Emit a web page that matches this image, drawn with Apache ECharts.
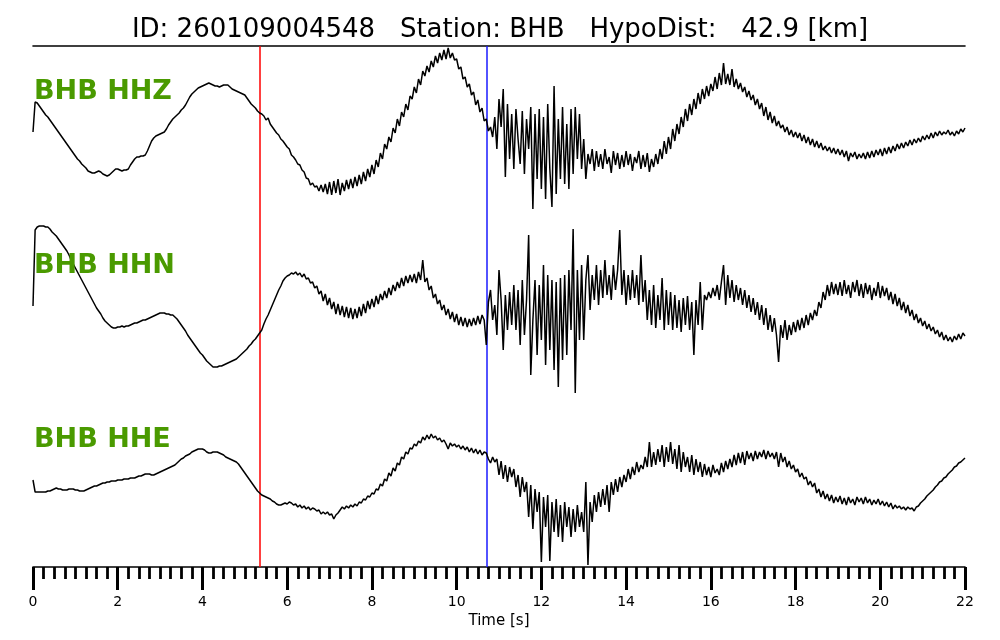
<!DOCTYPE html>
<html>
<head>
<meta charset="utf-8">
<script src="https://cdn.jsdelivr.net/npm/echarts@6/dist/echarts.min.js"></script>
<style>
html,body{margin:0;padding:0;background:#fff;}
#chart{width:1000px;height:640px;}
</style>
</head>
<body>
<div id="chart"></div>
<script>
// ---- data ----
const TITLE = "ID: 260109004548   Station: BHB   HypoDist:   42.9 [km]";
const CHANNELS = ["BHB HHZ", "BHB HHN", "BHB HHE"];
const DT = 0.05;            // sample spacing [s]
const X_TICKS = [0, 2, 4, 6, 8, 10, 12, 14, 16, 18, 20, 22];
const P_PICK = 5.36;        // red pick [s]
const S_PICK = 10.72;       // blue pick [s]

// amplitudes (arbitrary counts, positive = up), one row per second
const hhz = [
 -3,27,26,23,20,17,14,12,9,6,3,0,-3,-6,-9,-12,-15,-18,-21,-24,
 -27,-30,-32,-35,-37,-39,-42,-43,-44,-44,-43,-42,-43,-45,-46,-47,-46,-44,-42,-40,
 -40,-41,-42,-41,-41,-40,-36,-33,-30,-28,-28,-27,-27,-26,-22,-17,-12,-9,-7,-6,
 -5,-4,-3,0,4,7,10,12,14,16,19,21,24,28,32,35,37,39,41,42,
 43,44,45,46,45,44,43,43,42,43,44,44,44,42,40,39,38,37,36,35,
 34,31,28,25,23,21,18,16,15,13,9,11,5,2,-1,-4,-6,-10,-12,-15,
 -18,-20,-26,-28,-31,-35,-36,-41,-43,-49,-50,-56,-54,-58,-57,-62,-56,-63,-55,-65,
 -53,-66,-52,-64,-50,-66,-54,-62,-51,-60,-50,-59,-48,-57,-46,-55,-43,-52,-40,-48,
 -36,-45,-31,-38,-24,-30,-15,-20,-8,-13,1,-4,10,3,17,12,25,19,33,30,
 42,36,50,44,58,53,63,57,68,62,73,66,76,69,79,70,81,71,76,69,
 70,60,62,50,52,42,45,34,37,24,29,17,21,8,10,-2,2,-8,12,-20,
 30,2,40,-48,25,-30,15,-40,20,-10,-35,18,-45,10,-20,22,-80,15,-50,20,
 -60,12,-70,25,-40,-78,43,-65,10,-50,22,-55,5,-60,20,-45,22,-30,15,-40,
 -10,-50,-25,-35,-20,-42,-22,-38,-25,-40,-20,-35,-28,-44,-22,-36,-24,-40,-26,-38,
 -22,-36,-25,-42,-28,-34,-22,-40,-26,-38,-24,-43,-30,-38,-25,-35,-20,-30,-12,-25,
 -8,-20,0,-12,5,-5,12,2,20,8,25,14,30,20,36,25,40,30,43,33,
 45,38,52,40,56,44,66,45,55,44,60,42,50,40,46,37,42,32,38,29,
 34,24,30,20,26,13,22,9,17,6,13,3,8,1,4,-3,2,-6,-1,-8,
 -3,-9,-4,-12,-6,-14,-8,-16,-10,-18,-12,-19,-14,-21,-17,-22,-18,-24,-19,-25,
 -20,-26,-21,-28,-22,-32,-24,-28,-23,-30,-25,-29,-24,-30,-23,-29,-22,-28,-21,-26,
 -20,-27,-19,-25,-18,-24,-17,-22,-15,-20,-14,-19,-13,-17,-11,-16,-10,-14,-9,-13,
 -7,-11,-6,-10,-4,-9,-3,-7,-2,-6,-3,-5,-1,-6,-3,-7,-2,-5,0,-3,
 1
];
const hhn = [
 4,80,83,84,84,84,83,83,81,78,76,74,71,68,65,62,59,55,50,46,
 42,38,34,30,26,22,18,14,10,6,2,-1,-4,-8,-11,-13,-15,-17,-18,-18,
 -17,-17,-16,-17,-16,-16,-15,-14,-13,-13,-12,-11,-10,-10,-9,-8,-7,-6,-5,-4,
 -3,-3,-3,-4,-4,-5,-5,-7,-9,-12,-15,-18,-21,-25,-28,-31,-34,-37,-40,-43,
 -45,-48,-51,-53,-55,-57,-57,-57,-56,-56,-55,-54,-53,-52,-51,-50,-49,-47,-45,-43,
 -41,-39,-36,-34,-31,-29,-26,-23,-20,-14,-9,-5,0,5,10,15,20,24,29,32,
 34,35,37,36,38,35,37,33,36,31,32,27,28,22,24,16,19,9,16,5,
 12,1,8,-4,6,-5,4,-7,3,-8,2,-9,1,-8,3,-6,6,-3,9,1,
 11,3,14,6,16,10,19,12,22,15,25,19,28,22,32,24,34,27,35,28,
 36,27,38,30,50,28,32,20,24,12,16,6,10,0,5,-5,1,-9,-2,-12,
 -4,-15,-7,-16,-8,-17,-9,-16,-8,-15,-6,-14,-5,-10,-35,8,20,-10,5,-25,
 40,10,-40,15,-20,18,-15,25,-20,20,-35,30,-25,10,75,-65,-10,30,-45,25,
 -30,45,-55,35,-40,30,-60,28,-77,32,-50,35,-45,40,-20,81,-83,40,-30,45,
 -30,30,55,0,35,10,45,5,40,12,50,15,35,10,45,20,40,80,15,40,
 5,35,10,40,12,35,5,55,8,30,-10,20,-15,25,-18,15,-10,32,-20,20,
 -15,18,-20,15,-18,10,-22,12,-15,14,-20,8,-45,10,-15,28,-20,15,10,18,
 12,22,14,25,10,28,45,5,35,12,30,8,25,10,22,5,20,2,15,-2,
 12,-5,8,-10,5,-15,2,-20,-5,-22,-8,-25,-52,-15,-28,-10,-30,-15,-25,-12,
 -22,-10,-20,-8,-18,-5,-15,-3,-10,0,-6,8,2,18,10,25,14,28,16,26,
 15,28,14,30,16,25,12,28,18,30,14,26,12,27,16,25,10,22,14,28,
 12,24,14,22,10,18,6,16,4,12,0,8,-3,5,-6,0,-10,-4,-13,-8,
 -16,-11,-19,-14,-21,-17,-24,-20,-27,-22,-30,-25,-31,-27,-32,-26,-30,-24,-29,-23,
 -26
];
const hhe = [
 17,5,5,5,5,5,5,6,6,7,8,9,8,8,7,7,7,8,8,8,
 7,7,6,6,6,7,8,9,10,11,11,12,13,14,14,15,15,16,16,16,
 17,17,17,18,18,18,19,19,19,20,21,21,22,23,23,23,22,22,23,24,
 25,26,27,28,29,30,31,32,34,36,38,39,41,42,43,45,46,47,48,48,
 48,47,45,44,44,45,45,45,44,43,42,40,39,38,37,36,35,33,30,27,
 24,21,18,15,12,9,6,4,2,1,0,-1,-2,-4,-5,-7,-8,-8,-7,-6,
 -7,-5,-6,-8,-7,-10,-8,-11,-9,-12,-10,-13,-11,-12,-14,-13,-17,-15,-17,-15,
 -18,-17,-22,-18,-16,-13,-10,-12,-9,-11,-8,-10,-7,-9,-5,-6,-2,-3,1,0,
 4,3,8,7,13,11,18,16,24,21,29,26,34,32,40,38,45,43,49,48,
 53,51,56,54,60,57,62,58,63,59,61,57,59,55,57,53,48,54,51,53,
 50,52,48,51,47,50,45,49,44,48,43,47,42,45,44,38,34,40,35,38,
 22,36,18,32,15,30,20,28,10,22,0,20,5,15,-20,12,-32,8,-15,5,
 -65,0,-30,2,-64,-5,-35,-2,-40,-8,-45,-5,-30,-10,-40,-12,-35,-8,-30,-15,
 -35,15,-68,-5,-25,2,-15,5,-10,8,-8,12,-15,15,2,18,5,20,10,22,
 15,28,18,30,22,35,25,32,28,40,30,55,30,45,32,48,35,52,30,50,
 35,55,33,48,28,52,25,45,30,40,25,42,22,38,25,35,20,33,22,30,
 20,32,24,28,22,34,25,36,28,38,30,42,32,44,34,45,32,46,38,44,
 36,46,38,45,40,47,38,46,40,44,38,45,30,44,35,40,30,36,28,32,
 25,28,20,24,18,20,12,16,10,14,4,8,0,6,-2,3,-4,2,-6,0,
 -5,1,-7,-1,-8,0,-6,-2,-8,0,-5,-1,-7,0,-6,-2,-8,-3,-7,-2,
 -8,-4,-9,-5,-10,-6,-12,-8,-11,-9,-12,-10,-13,-10,-12,-11,-14,-10,-9,-6,
 -4,-2,1,3,5,7,10,12,15,16,19,20,23,25,27,30,31,34,35,37,
 39
];

// ---- layout (stacking of the three traces) ----
const TRACES = [hhz, hhn, hhe];
const OFFSETS = [-83, -264, -451];
const Y_MIN = -521;
const FONT = "DejaVu Sans";
const GREEN = "#4a9a00";

function toXY(arr, off) {
  return arr.map((v, i) => [Math.round(i * DT * 100) / 100, off + v]);
}

const chart = echarts.init(document.getElementById('chart'), null, {renderer: 'canvas'});

const series = TRACES.map((tr, k) => {
  const s = {
    type: 'line',
    name: CHANNELS[k],
    data: toXY(tr, OFFSETS[k]),
    showSymbol: false,
    symbol: 'none',
    sampling: null,
    lineStyle: {color: '#000', width: 1.5},
    animation: false,
    silent: true,
    z: 3
  };
  if (k === 0) {
    s.markLine = {
      silent: true,
      symbol: ['none', 'none'],
      label: {show: false},
      animation: false,
      z: 2,
      data: [
        {xAxis: P_PICK, lineStyle: {color: '#ff0000', width: 1.5, type: 'solid'}},
        {xAxis: S_PICK, lineStyle: {color: '#1a1aff', width: 1.5, type: 'solid'}}
      ]
    };
  }
  return s;
});

const labelTops = [78, 252, 426];

chart.setOption({
  animation: false,
  backgroundColor: '#fff',
  title: {
    text: TITLE,
    left: 'center',
    top: 12,
    textStyle: {fontFamily: FONT, fontSize: 26, fontWeight: 'normal', color: '#000'}
  },
  grid: {left: 33, right: 35, top: 46, bottom: 73, containLabel: false},
  xAxis: [{
    type: 'value',
    min: X_TICKS[0],
    max: X_TICKS[X_TICKS.length - 1],
    interval: 2,
    position: 'bottom',
    name: 'Time [s]',
    nameLocation: 'middle',
    nameGap: 43,
    nameTextStyle: {fontFamily: FONT, fontSize: 15, color: '#000'},
    axisLine: {show: true, onZero: false, lineStyle: {color: '#000', width: 1.6}},
    axisTick: {show: true, inside: false, length: 23, lineStyle: {color: '#000', width: 3}},
    minorTick: {show: true, splitNumber: 8, length: 12, lineStyle: {color: '#000', width: 2.8}},
    axisLabel: {fontFamily: FONT, fontSize: 14, color: '#000', margin: 28},
    splitLine: {show: false},
    minorSplitLine: {show: false}
  }, {
    type: 'value',
    min: X_TICKS[0],
    max: X_TICKS[X_TICKS.length - 1],
    position: 'top',
    axisLine: {show: true, onZero: false, lineStyle: {color: '#000', width: 1.6}},
    axisTick: {show: false},
    axisLabel: {show: false},
    splitLine: {show: false}
  }],
  yAxis: {
    type: 'value',
    min: Y_MIN,
    max: 0,
    show: false,
    splitLine: {show: false}
  },
  graphic: CHANNELS.map((c, k) => ({
    type: 'text',
    left: 34,
    top: labelTops[k],
    z: 10,
    style: {text: c, fill: GREEN, font: 'bold 27px "DejaVu Sans"'}
  })),
  series: series
});
</script>
</body>
</html>
